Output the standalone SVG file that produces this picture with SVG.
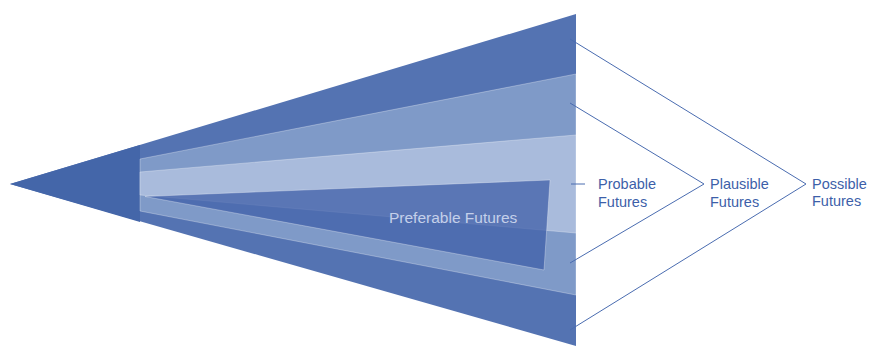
<svg xmlns="http://www.w3.org/2000/svg" width="870" height="347" viewBox="0 0 870 347">
  <style>
    .lbl { font-family: "Liberation Sans", Arial, sans-serif; font-size: 14.5px; fill: #3d5fa9; }
    .inner { font-family: "Liberation Sans", Arial, sans-serif; font-size: 15.5px; fill: #c4d0ea; }
    .conn { stroke: #4a6cb0; stroke-width: 1; fill: none; }
    .edge { stroke: #ffffff; stroke-opacity: 0.3; stroke-width: 1; }
  </style>
  <rect width="870" height="347" fill="#ffffff"/>

  <!-- outer cone: possible futures -->
  <g id="possible-cone">
    <polygon points="10,184 576,14 576,346" fill="#5473b2"/>
    <polygon points="10,184 140,145 140,222" fill="#4466a9"/>
  </g>

  <!-- plausible band -->
  <g id="plausible-band">
    <polygon class="edge" points="140,159 576,74 576,295 140,211" fill="#7f9ac8"/>
  </g>

  <!-- probable band -->
  <g id="probable-band">
    <polygon class="edge" points="140,172 576,135 576,233 140,195" fill="#a9bbdc"/>
  </g>

  <!-- preferable wedge -->
  <g id="preferable">
    <polygon class="edge" points="145,196.5 550,180 544,270" fill="#3b5ca6" fill-opacity="0.72"/>
    <text class="inner" x="389" y="223">Preferable Futures</text>
  </g>

  <!-- labels -->
  <g id="probable-label">
    <text class="lbl" x="598" y="189">Probable</text>
    <text class="lbl" x="598" y="206.5">Futures</text>
  </g>
  <g id="plausible-label">
    <text class="lbl" x="710" y="189">Plausible</text>
    <text class="lbl" x="710" y="206.5">Futures</text>
  </g>
  <g id="possible-label">
    <text class="lbl" x="812" y="188.5">Possible</text>
    <text class="lbl" x="812" y="206">Futures</text>
  </g>

  <!-- brackets joining bands to labels -->
  <g id="connectors">
    <line class="conn" x1="571" y1="184" x2="585" y2="184"/>
    <polyline class="conn" points="570,103 704,184 570,263"/>
    <polyline class="conn" points="570,39 806,184 570,330"/>
  </g>
</svg>
